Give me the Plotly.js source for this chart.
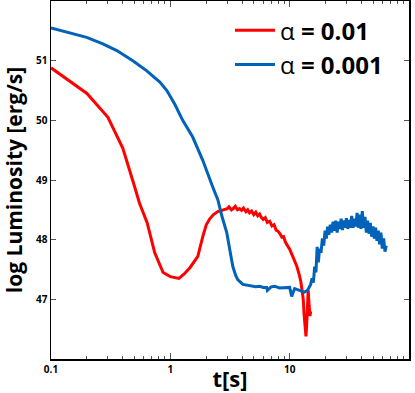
<!DOCTYPE html>
<html>
<head>
<meta charset="utf-8">
<script src="https://cdn.plot.ly/plotly-3.0.1.min.js"></script>
<style>
  body { margin: 0; background: white; }
  #graph { width: 415px; height: 393px; }
</style>
</head>
<body>
<div id="graph"></div>
<script>
// alpha = 0.01 (red)
const tRed = [0.1, 0.2, 0.3, 0.4, 0.5, 0.55, 0.64, 0.74, 0.87, 1.0, 1.18, 1.3, 1.46, 1.7, 1.87, 2.0, 2.14, 2.3, 2.5, 2.75,
    3.0, 3.1, 3.25, 3.4, 3.5, 3.65, 3.8, 3.95, 4.1, 4.3, 4.45, 4.6, 4.8, 5.0, 5.2, 5.4, 5.6, 5.8, 6.0, 6.25, 6.5, 6.8, 7.1, 7.4,
    7.7, 8.0, 8.3, 8.6, 8.9, 9.2, 9.6, 10.0, 10.5, 11.0, 11.5, 12.0, 12.4,
    12.7, 13.0, 13.2, 13.5, 13.7, 13.9, 14.1, 14.3, 14.5, 14.8, 15.0];
const lumRed = [50.88, 50.45, 50.05, 49.53, 48.9, 48.62, 48.28, 47.78, 47.45, 47.38, 47.35, 47.42, 47.53, 47.72, 48.05, 48.25, 48.35, 48.42, 48.47, 48.5,
    48.52, 48.55, 48.5, 48.53, 48.56, 48.5, 48.52, 48.49, 48.53, 48.47, 48.5, 48.45, 48.48, 48.42, 48.46, 48.4, 48.43, 48.37, 48.34, 48.37, 48.29, 48.31, 48.23, 48.25,
    48.16, 48.14, 48.1, 48.04, 48.05, 47.96, 47.9, 47.84, 47.74, 47.65, 47.55, 47.42, 47.3,
    47.15, 47.0, 46.75, 46.45, 46.38, 46.6, 47.05, 47.15, 46.95, 46.72, 46.8];

// alpha = 0.001 (blue)
const tBlue = [0.1, 0.144, 0.199, 0.272, 0.356, 0.485, 0.635, 0.817, 0.935, 1.09, 1.27, 1.54, 1.87, 2.27, 2.5, 2.7, 2.97,
    3.15, 3.34, 3.53, 3.67, 4.05, 4.62, 5.2, 5.61, 6.0, 6.41, 6.5, 7.0, 7.48, 8.2, 9.1, 10.0, 10.4, 11.0, 12.1, 13.3, 14.1,
    15.0, 15.4, 15.8, 16.2, 16.6, 17.0, 17.4, 17.8, 18.3, 18.8, 19.3, 19.8, 20.3, 20.8, 21.3, 21.9, 22.5, 23.1, 23.7, 24.3,
    25.0, 25.6, 26.3, 27.0, 27.7, 28.4, 29.1, 29.9, 30.7, 31.5, 32.3, 33.1, 34.0, 34.9, 35.8, 36.7, 37.6, 38.6, 39.6, 40.6,
    41.7, 42.8, 43.9, 45.0, 46.2, 47.4, 48.6, 49.9, 51.2, 52.5, 53.9, 55.3, 56.7, 58.2, 59.7, 61.3, 62.9, 64.5];
const lumBlue = [51.55, 51.47, 51.39, 51.28, 51.17, 51.0, 50.83, 50.64, 50.5, 50.27, 50.0, 49.72, 49.33, 48.88, 48.67, 48.4, 48.12,
    47.83, 47.55, 47.4, 47.33, 47.25, 47.23, 47.21, 47.22, 47.2, 47.2, 47.15, 47.21, 47.22, 47.19, 47.2, 47.2, 47.05, 47.18, 47.15, 47.12, 47.15,
    47.25, 47.35, 47.28, 47.55, 47.45, 47.88, 47.62, 47.85, 47.78, 48.02, 47.9, 48.15, 48.02, 48.22, 48.08, 48.25, 48.12, 48.3, 48.15, 48.32,
    48.12, 48.3, 48.18, 48.35, 48.16, 48.32, 48.2, 48.36, 48.18, 48.33, 48.2, 48.4, 48.2, 48.35, 48.22, 48.45, 48.2, 48.42, 48.18, 48.48,
    48.2, 48.38, 48.12, 48.32, 48.1, 48.28, 48.05, 48.22, 48.02, 48.2, 47.98, 48.15, 47.92, 48.12, 47.85, 48.02, 47.8, 47.9];

const xTicks = [0.1, 1, 10, 100];
const xTickText = ['0.1', '1', '10', '100'];
const yTicks = [47, 48, 49, 50, 51];

const red = {
    x: tRed,
    y: lumRed,
    mode: 'lines',
    name: 'α <b>= 0.01</b>',
    line: { color: '#ff0000', width: 3 },
};

const blue = {
    x: tBlue,
    y: lumBlue,
    mode: 'lines',
    name: 'α <b>= 0.001</b>',
    line: { color: '#0062b8', width: 3 },
};

const axisFont = { family: 'Open Sans, sans-serif', size: 10, color: 'black', weight: 'bold' };

const layout = {
    width: 415,
    height: 393,
    margin: { l: 51, r: 6, t: 1, b: 34 },
    plot_bgcolor: 'white',
    paper_bgcolor: 'white',
    showlegend: true,
    legend: {
        x: 0.5, y: 0.98, xanchor: 'left', yanchor: 'top',
        bgcolor: 'rgba(0,0,0,0)',
        font: { family: 'Open Sans, sans-serif', size: 24, color: 'black' },
        itemwidth: 40,
    },
    xaxis: {
        type: 'log',
        range: [-1, 2],
        tickvals: xTicks,
        ticktext: xTickText,
        ticks: 'inside',
        ticklen: 6,
        tickwidth: 1,
        tickcolor: '#555',
        minor: { ticks: 'inside', ticklen: 3, tickcolor: '#555', dtick: 'D1', showgrid: false },
        showline: true,
        linecolor: 'black',
        linewidth: 1.5,
        mirror: 'ticks',
        showgrid: false,
        zeroline: false,
        tickfont: axisFont,
        title: { text: '<b>t[s]</b>', font: { family: 'Open Sans, sans-serif', size: 22, color: 'black' }, standoff: 4 },
    },
    yaxis: {
        range: [46, 52],
        tickvals: yTicks,
        ticks: 'inside',
        ticklen: 5,
        tickwidth: 1,
        tickcolor: '#555',
        showline: true,
        linecolor: 'black',
        linewidth: 1.5,
        mirror: 'ticks',
        showgrid: false,
        zeroline: false,
        tickfont: axisFont,
        title: { text: '<b>log Luminosity [erg/s]</b>', font: { family: 'Open Sans, sans-serif', size: 21, color: 'black' }, standoff: 8 },
    },
};

Plotly.newPlot('graph', [red, blue], layout, { staticPlot: true });
</script>
</body>
</html>
